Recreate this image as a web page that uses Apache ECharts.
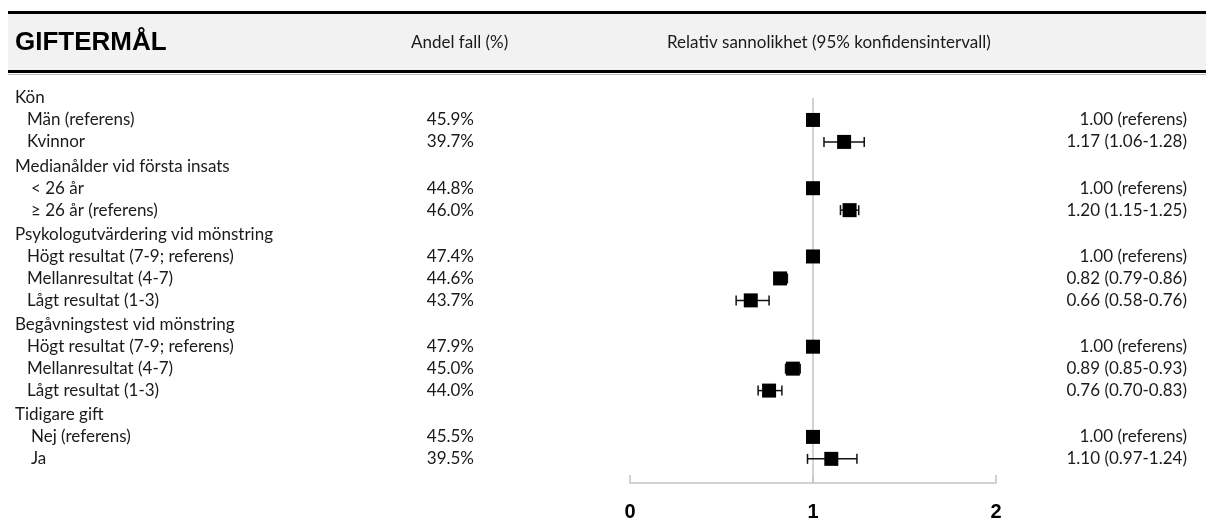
<!DOCTYPE html>
<html><head><meta charset="utf-8">
<script src="https://cdn.jsdelivr.net/npm/echarts@6/dist/echarts.min.js"></script>
<style>html,body{margin:0;padding:0;background:#fff}#c{width:1206px;height:522px}</style>
</head><body><div id="c"></div>
<script>
// ---- data ----
const title = 'GIFTERMÅL';
const colShare = 'Andel fall (%)';
const colRR = 'Relativ sannolikhet (95% konfidensintervall)';
const groups = ['Kön', 'Medianålder vid första insats', 'Psykologutvärdering vid mönstring', 'Begåvningstest vid mönstring', 'Tidigare gift'];
const itemGroup = [0, 0, 1, 1, 2, 2, 2, 3, 3, 3, 4, 4];
const itemLabels = ['Män (referens)', 'Kvinnor', '< 26 år', '≥ 26 år (referens)',
  'Högt resultat (7-9; referens)', 'Mellanresultat (4-7)', 'Lågt resultat (1-3)',
  'Högt resultat (7-9; referens)', 'Mellanresultat (4-7)', 'Lågt resultat (1-3)',
  'Nej (referens)', 'Ja'];
const share = [45.9, 39.7, 44.8, 46.0, 47.4, 44.6, 43.7, 47.9, 45.0, 44.0, 45.5, 39.5];
const rr = [1.00, 1.17, 1.00, 1.20, 1.00, 0.82, 0.66, 1.00, 0.89, 0.76, 1.00, 1.10];
const ciLow = [null, 1.06, null, 1.15, null, 0.79, 0.58, null, 0.85, 0.70, null, 0.97];
const ciHigh = [null, 1.28, null, 1.25, null, 0.86, 0.76, null, 0.93, 0.83, null, 1.24];
const refText = 'referens';
const xTicks = [0, 1, 2];

// ---- layout ----
const FONT = 'Lato, "Noto Sans", sans-serif';
const BODY = 17;
const TXT = '#1a1a1a';
const GAP = 0.11;
const groupIndent = [27, 31, 27, 27, 31];
const headerX = 15;

const rows = [];
const itemPos = [];
let p = 0;
groups.forEach((g, gi) => {
  if (gi > 0) p += GAP;
  rows.push({ pos: p, text: g, x: headerX });
  p += 1;
  itemLabels.forEach((lab, i) => {
    if (itemGroup[i] === gi) {
      rows.push({ pos: p, text: lab, x: groupIndent[gi] });
      itemPos[i] = p;
      p += 1;
    }
  });
});
const yMax = p - 1 + 1.1;

function textSeries(items, align) {
  return {
    type: 'custom', silent: true, clip: false, z: 5,
    data: items.map(it => [0, it.pos]),
    renderItem: (params, api) => {
      const it = items[params.dataIndex];
      const y = api.coord([0, api.value(1)])[1];
      return {
        type: 'text', x: it.x, y: y,
        style: { text: it.text, textAlign: align, textVerticalAlign: 'middle', fill: TXT, font: BODY + 'px ' + FONT }
      };
    }
  };
}

const shareItems = share.map((v, i) => ({ pos: itemPos[i], text: v.toFixed(1) + '%', x: 474 }));
const rrItems = rr.map((v, i) => ({
  pos: itemPos[i], x: 1187,
  text: ciLow[i] == null ? v.toFixed(2) + ' (' + refText + ')' : v.toFixed(2) + ' (' + ciLow[i].toFixed(2) + '-' + ciHigh[i].toFixed(2) + ')'
}));

const ciData = [];
rr.forEach((v, i) => { if (ciLow[i] != null) ciData.push([ciLow[i], ciHigh[i], itemPos[i]]); });

const chart = echarts.init(document.getElementById('c'));
chart.setOption({
  animation: false,
  backgroundColor: '#fff',
  grid: { left: 630, right: 210, top: 98, bottom: 38 },
  xAxis: {
    type: 'value', min: xTicks[0], max: xTicks[xTicks.length - 1], interval: 1, position: 'bottom',
    axisLine: { show: true, onZero: false, lineStyle: { color: '#c4c4c4', width: 1.5 } },
    axisTick: { show: true, inside: true, length: 8, lineStyle: { color: '#c4c4c4', width: 1.5 } },
    axisLabel: { margin: 19, fontSize: 20, fontWeight: 'bold', color: '#000', fontFamily: '"Liberation Sans", Arial, sans-serif' },
    splitLine: { show: false }
  },
  yAxis: { type: 'value', inverse: true, min: 0, max: yMax, show: false },
  graphic: [
    { type: 'rect', shape: { x: 8, y: 13, width: 1198, height: 58 }, style: { fill: '#f2f2f2' }, silent: true },
    { type: 'rect', shape: { x: 8, y: 11, width: 1198, height: 3 }, style: { fill: '#000' }, silent: true },
    { type: 'rect', shape: { x: 8, y: 70, width: 1198, height: 3 }, style: { fill: '#000' }, silent: true },
    { type: 'rect', shape: { x: 8, y: 74, width: 1198, height: 1 }, style: { fill: '#bdbdbd' }, silent: true },
    { type: 'text', x: 15, y: 43, style: { text: title, textVerticalAlign: 'middle', fill: '#000', font: 'bold 26px "Liberation Sans", Arial, sans-serif' } },
    { type: 'text', x: 411, y: 43, style: { text: colShare, textVerticalAlign: 'middle', fill: TXT, font: BODY + 'px ' + FONT } },
    { type: 'text', x: 667, y: 43, style: { text: colRR, textVerticalAlign: 'middle', fill: TXT, font: BODY + 'px ' + FONT } }
  ],
  series: [
    textSeries(rows, 'left'),
    textSeries(shareItems, 'right'),
    textSeries(rrItems, 'right'),
    {
      type: 'custom', z: 2, silent: true,
      data: ciData,
      encode: { x: [0, 1], y: 2 },
      renderItem: (params, api) => {
        const a = api.coord([api.value(0), api.value(2)]);
        const b = api.coord([api.value(1), api.value(2)]);
        const st = { stroke: '#111', lineWidth: 1.5 };
        return {
          type: 'group', children: [
            { type: 'line', shape: { x1: a[0], y1: a[1], x2: b[0], y2: b[1] }, style: st },
            { type: 'line', shape: { x1: a[0], y1: a[1] - 5, x2: a[0], y2: a[1] + 5 }, style: st },
            { type: 'line', shape: { x1: b[0], y1: b[1] - 5, x2: b[0], y2: b[1] + 5 }, style: st }
          ]
        };
      },
      markLine: {
        silent: true, symbol: 'none', label: { show: false }, z: 1,
        lineStyle: { color: '#c4c4c4', width: 1.5, type: 'solid' },
        data: [{ xAxis: 1 }]
      }
    },
    {
      type: 'scatter', z: 4, silent: true,
      symbol: 'rect', symbolSize: 14,
      itemStyle: { color: '#000', opacity: 1 },
      data: rr.map((v, i) => [v, itemPos[i]])
    }
  ]
});
</script>
</body></html>
